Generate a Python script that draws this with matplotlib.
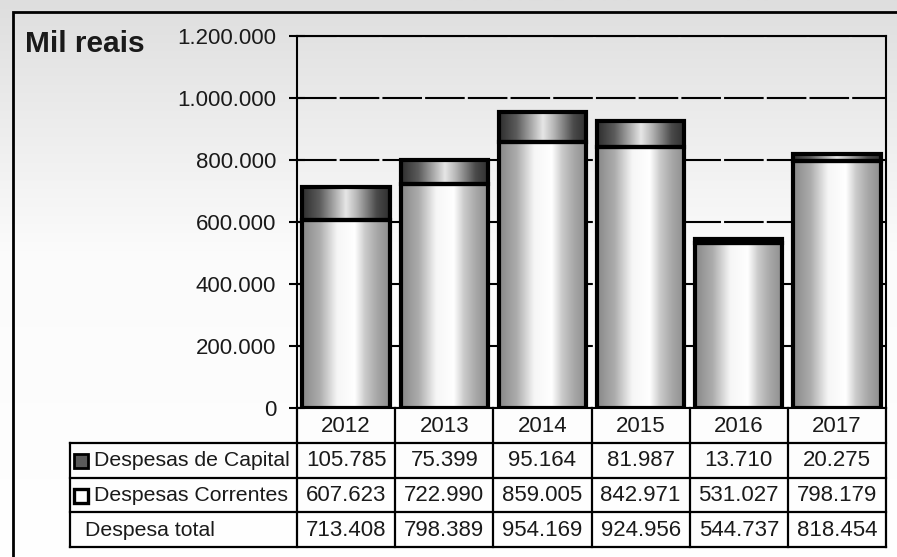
import numpy as np
import matplotlib.pyplot as plt
from matplotlib.colors import LinearSegmentedColormap
from matplotlib.patches import Rectangle

plt.rcParams['font.family'] = ['Liberation Sans', 'DejaVu Sans']

# Despesas por ano (mil reais)
anos = ['2012', '2013', '2014', '2015', '2016', '2017']
capital = [105785, 75399, 95164, 81987, 13710, 20275]
correntes = [607623, 722990, 859005, 842971, 531027, 798179]
total = [713408, 798389, 954169, 924956, 544737, 818454]

row_labels = ['Despesas de Capital', 'Despesas Correntes', 'Despesa total']
yticks = [0, 200000, 400000, 600000, 800000, 1000000, 1200000]


def fmt(v):
    return f"{v:,.0f}".replace(",", ".")


W, H = 897, 557
fig = plt.figure(figsize=(W / 100, H / 100), dpi=100)

# soft grey wash at the top of the chart area
bg = fig.add_axes([0, 0, 1, 1], zorder=-10)
grad = np.linspace(0, 1, 256).reshape(-1, 1)
bg_cmap = LinearSegmentedColormap.from_list(
    'bg', [(0, '#dedede'), (0.15, '#e8e8e8'), (0.45, '#fbfbfb'), (1, '#ffffff')])
bg.imshow(grad, cmap=bg_cmap, aspect='auto', extent=[0, 1, 0, 1], origin='upper')
bg.set_axis_off()

# outer chart frame
fig.patches.append(Rectangle((13 / W, -0.05), 1.2, 1 - 12 / H + 0.05,
                             transform=fig.transFigure, fill=False,
                             edgecolor='black', linewidth=2))

x0, x1 = 297 / W, 886 / W
y0, y1 = 1 - 408 / H, 1 - 36 / H
ax = fig.add_axes([x0, y0, x1 - x0, y1 - y0])
ax.patch.set_alpha(0)

x = np.arange(len(anos))
bw = 0.89
bars_cor = ax.bar(x, correntes, width=bw, facecolor='none', edgecolor='black',
                  linewidth=3, zorder=3)
bars_cap = ax.bar(x, capital, bottom=correntes, width=bw, facecolor='none',
                  edgecolor='black', linewidth=3, zorder=3)

cmap_cor = LinearSegmentedColormap.from_list(
    'cor', [(0, '#888888'), (0.2, '#acacac'), (0.4, '#f6f6f6'), (0.6, '#ffffff'),
            (0.72, '#cacaca'), (0.86, '#a6a6a6'), (1, '#8e8e8e')])
cmap_cap = LinearSegmentedColormap.from_list(
    'cap', [(0, '#2e2e2e'), (0.2, '#5c5c5c'), (0.5, '#e6e6e6'), (0.62, '#b8b8b8'),
            (0.85, '#4a4a4a'), (1, '#2e2e2e')])
hgrad = np.linspace(0, 1, 256).reshape(1, -1)
for bars, cmap in ((bars_cor, cmap_cor), (bars_cap, cmap_cap)):
    for p in bars:
        im = ax.imshow(hgrad, cmap=cmap, aspect='auto', zorder=2,
                       extent=[p.get_x(), p.get_x() + p.get_width(),
                               p.get_y(), p.get_y() + p.get_height()])
        im.set_clip_path(p)

ax.set_xlim(-0.5, len(anos) - 0.5)
ax.set_ylim(0, 1200000)
ax.set_yticks(yticks)
ax.set_yticklabels([fmt(v) for v in yticks])
ax.set_xticks([])
ax.tick_params(axis='y', direction='inout', length=11, width=1.5, pad=9.5,
               labelsize=16, labelcolor='#1a1a1a')
ax.yaxis.grid(True, color='black', linewidth=1.5, linestyle=(0, (19, 1.5)), zorder=0.5)
ax.set_axisbelow(True)
for s in ax.spines.values():
    s.set_linewidth(1.5)

fig.text(25 / W, 1 - 52 / H, 'Mil reais', fontsize=21.5, fontweight='bold',
         color='#1a1a1a', va='baseline', ha='left')

# data table under the plot
col_w = (886 - 297) / len(anos)
lab_w = (297 - 70) / col_w
tx0 = 70 / W
tax = fig.add_axes([tx0, 1 - 547 / H, x1 - tx0, (547 - 408) / H])
tax.set_xlim(-0.5 - lab_w, len(anos) - 0.5)
tax.set_ylim(4, 0)
tax.set_axis_off()
tax.patch.set_alpha(0)
left = -0.5 - lab_w
right = len(anos) - 0.5
lw = 1.6
for i in range(len(anos) + 1):
    tax.plot([i - 0.5, i - 0.5], [0, 4], color='black', linewidth=lw, clip_on=False)
tax.plot([left, left], [1, 4], color='black', linewidth=lw, clip_on=False)
for r in range(1, 5):
    tax.plot([left, right], [r, r], color='black', linewidth=lw, clip_on=False)

for i, a in enumerate(anos):
    tax.text(i, 0.52, a, ha='center', va='center', fontsize=16, color='#1a1a1a')
for r, vals in enumerate((capital, correntes, total), start=1):
    for i, v in enumerate(vals):
        tax.text(i, r + 0.52, fmt(v), ha='center', va='center', fontsize=16,
                 color='#1a1a1a')

# legend keys next to the series names
tax.plot(left + 0.115, 1.52, marker='s', markersize=9.5, markerfacecolor='#5a5a5a',
         markeredgecolor='black', markeredgewidth=2, clip_on=False)
tax.plot(left + 0.115, 2.52, marker='s', markersize=9.5, markerfacecolor='white',
         markeredgecolor='black', markeredgewidth=2.4, clip_on=False)
tax.text(left + 0.245, 1.52, row_labels[0], ha='left', va='center', fontsize=15.3,
         color='#1a1a1a')
tax.text(left + 0.245, 2.52, row_labels[1], ha='left', va='center', fontsize=15.3,
         color='#1a1a1a')
tax.text(left + 0.155, 3.52, row_labels[2], ha='left', va='center', fontsize=15.3,
         color='#1a1a1a')

fig.savefig('out.png', dpi=100)
